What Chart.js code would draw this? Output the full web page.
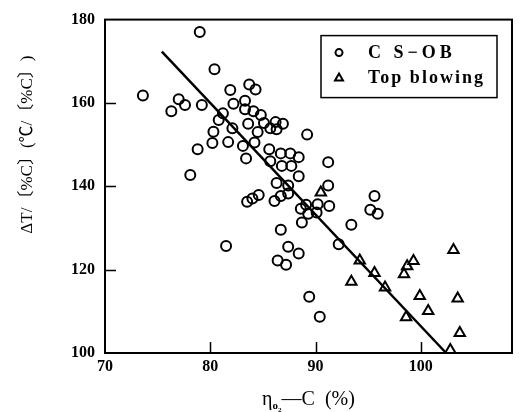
<!DOCTYPE html>
<html lang="ja">
<head>
<meta charset="utf-8">
<title>ΔT/[%C] と η(O2-C)</title>
<script src="https://cdn.jsdelivr.net/npm/chart.js@4/dist/chart.umd.min.js"></script>
<style>
  html, body { margin: 0; padding: 0; background: #fff; }
  #chart { display: block; }
</style>
</head>
<body>
<canvas id="chart" width="520" height="412"></canvas>
<script>
'use strict';

/* ---------- データ ---------- */
const X_TICKS = [70, 80, 90, 100];
const Y_TICKS = [100, 120, 140, 160, 180];

// CS-OB（○）
const CSOB_X = [79.0, 73.6, 80.4, 77.0, 77.6, 76.3, 79.2, 81.9, 83.7, 84.3,
    82.2, 83.3, 83.3, 84.1, 84.8, 81.2, 80.8, 83.6, 82.1, 80.3,
    85.1, 86.2, 86.9, 85.7, 86.3, 84.5, 89.2, 80.2, 81.7, 84.2,
    83.1, 78.8, 83.4, 85.6, 86.7, 87.6, 88.4, 85.7, 86.8, 87.7,
    88.4, 78.1, 86.3, 87.4, 91.2, 91.2, 83.5, 84.0, 84.6, 86.1,
    86.7, 87.4, 89.1, 90.2, 88.6, 91.3, 90.1, 89.3, 88.7, 93.4,
    95.6, 95.2, 95.9, 86.7, 81.5, 87.4, 88.4, 86.4, 87.2, 92.2,
    89.4, 90.4];
const CSOB_Y = [177.0, 161.8, 168.1, 160.9, 159.5, 158.0, 159.5, 163.1, 164.4, 163.2,
    159.8, 160.5, 158.5, 158.0, 157.1, 157.5, 155.9, 155.0, 153.9, 153.1,
    155.2, 155.4, 155.0, 153.9, 153.7, 153.0, 152.4, 150.4, 150.6, 150.5,
    149.7, 148.9, 146.7, 148.9, 147.9, 147.9, 147.0, 146.0, 144.9, 144.9,
    142.4, 142.7, 140.8, 140.2, 145.8, 140.2, 136.3, 137.1, 137.9, 136.5,
    137.7, 138.3, 135.6, 135.7, 134.6, 135.3, 133.7, 133.4, 131.3, 130.8,
    137.7, 134.4, 133.4, 129.6, 125.7, 125.5, 123.9, 122.2, 121.2, 126.1,
    113.5, 108.7];

// Top blowing（△）
const TOP_X = [90.5, 94.2, 93.4, 95.6, 96.6, 103.1, 99.3, 98.7, 98.4, 99.9,
    103.5, 100.7, 98.6, 103.7, 102.8];
const TOP_Y = [138.5, 122.2, 117.1, 119.2, 115.7, 124.7, 122.1, 120.8, 118.9, 113.7,
    113.1, 110.1, 108.6, 104.8, 100.7];

// 回帰直線の両端
const FIT_X = [75.4, 102.4];
const FIT_Y = [172.3, 100.0];

const SERIF = '"Liberation Serif", "DejaVu Serif", serif';
const SERIF_CJK = '"Liberation Serif", "Noto Sans CJK JP", serif';

function toPoints(xs, ys) {
    return xs.map(function (x, i) { return { x: x, y: ys[i] }; });
}

/* ---------- 枠・内向き目盛・軸タイトル・凡例 ---------- */
const framePlugin = {
    id: 'frame',
    afterDraw(chart) {
        const ctx = chart.ctx;
        const a = chart.chartArea;
        const sx = chart.scales.x;
        const sy = chart.scales.y;
        ctx.save();
        ctx.strokeStyle = '#000';
        ctx.fillStyle = '#000';

        // 外枠
        ctx.lineWidth = 2;
        ctx.strokeRect(a.left, a.top, a.right - a.left, a.bottom - a.top);

        // 内向きの目盛
        ctx.lineWidth = 1.5;
        ctx.beginPath();
        X_TICKS.slice(1).forEach(function (v) {
            const px = Math.round(sx.getPixelForValue(v)) + 0.5;
            ctx.moveTo(px, a.bottom);
            ctx.lineTo(px, a.bottom - 11);
        });
        Y_TICKS.slice(1, -1).forEach(function (v) {
            const py = Math.round(sy.getPixelForValue(v)) + 0.5;
            ctx.moveTo(a.left, py);
            ctx.lineTo(a.left + 11, py);
        });
        ctx.stroke();

        // 縦軸タイトル
        ctx.save();
        ctx.translate(28, a.top + 125);
        ctx.rotate(-Math.PI / 2);
        ctx.font = '17px ' + SERIF_CJK;
        ctx.textAlign = 'center';
        ctx.textBaseline = 'middle';
        ctx.fillText('ΔT/〔%C〕(℃/〔%C〕)', 0, 0);
        ctx.restore();

        // 横軸タイトル（η の下付き O2）
        const parts = [
            { t: 'η', f: '20px ' + SERIF, dy: 0 },
            { t: 'o', f: 'bold 11px ' + SERIF, dy: 4 },
            { t: '2', f: 'bold 7px ' + SERIF, dy: 7 },
            { t: '—C', f: '20px ' + SERIF, dy: 0 },
            { t: '  (%)', f: '20px ' + SERIF, dy: 0 }
        ];
        let total = 0;
        parts.forEach(function (p) { ctx.font = p.f; p.w = ctx.measureText(p.t).width; total += p.w; });
        let tx = (a.left + a.right) / 2 - total / 2;
        ctx.textAlign = 'left';
        ctx.textBaseline = 'alphabetic';
        parts.forEach(function (p) {
            ctx.font = p.f;
            ctx.fillText(p.t, tx, 405 + p.dy);
            tx += p.w;
        });

        // 凡例（枠付き、右上）
        const lx = a.right - 191;
        const ly = a.top + 16;
        ctx.lineWidth = 1.5;
        ctx.strokeRect(lx, ly, 176, 62);
        const ds = chart.data.datasets;
        [0, 1].forEach(function (i, row) {
            const cy = ly + 17 + row * 25;
            const mx = lx + 18;
            ctx.lineWidth = 2;
            ctx.beginPath();
            if (ds[i].pointStyle === 'triangle') {
                ctx.moveTo(mx, cy - 4);
                ctx.lineTo(mx + 4, cy + 3);
                ctx.lineTo(mx - 4, cy + 3);
                ctx.closePath();
            } else {
                ctx.arc(mx, cy, 3.5, 0, Math.PI * 2);
            }
            ctx.stroke();
            ctx.font = 'bold 18px ' + SERIF;
            ctx.letterSpacing = row === 0 ? '4px' : '2px';
            ctx.textBaseline = 'middle';
            ctx.fillText(ds[i].label, lx + 47, cy + 1);
            ctx.letterSpacing = '0px';
        });
        ctx.restore();
    }
};

new Chart(document.getElementById('chart'), {
    type: 'scatter',
    data: {
        datasets: [
            {
                label: 'C S−OB',
                data: toPoints(CSOB_X, CSOB_Y),
                pointStyle: 'circle',
                pointRadius: 5,
                borderWidth: 2,
                borderColor: '#000',
                backgroundColor: 'transparent',
                clip: false
            },
            {
                label: 'Top blowing',
                data: toPoints(TOP_X, TOP_Y),
                pointStyle: 'triangle',
                pointRadius: 6,
                borderWidth: 2,
                borderColor: '#000',
                backgroundColor: 'transparent',
                clip: false
            },
            {
                label: 'fit',
                data: toPoints(FIT_X, FIT_Y),
                showLine: true,
                pointRadius: 0,
                borderWidth: 2.5,
                borderColor: '#000',
                clip: false
            }
        ]
    },
    options: {
        responsive: false,
        animation: false,
        layout: { padding: { top: 14, right: 4, left: 0, bottom: 0 } },
        plugins: { legend: { display: false }, tooltip: { enabled: false } },
        scales: {
            x: {
                type: 'linear',
                min: 70,
                max: 108.66,
                afterBuildTicks: function (s) { s.ticks = X_TICKS.map(v => ({ value: v })); },
                afterFit: function (s) { s.height = 59; },
                grid: { display: false, drawTicks: false },
                border: { display: false },
                ticks: { color: '#000', padding: 4, maxRotation: 0, font: { family: SERIF, size: 16, weight: 'bold' } }
            },
            y: {
                type: 'linear',
                min: 100,
                max: 180,
                afterBuildTicks: function (s) { s.ticks = Y_TICKS.map(v => ({ value: v })); },
                afterFit: function (s) { s.width = 105; },
                grid: { display: false, drawTicks: false },
                border: { display: false },
                ticks: { color: '#000', padding: 10, font: { family: SERIF, size: 16, weight: 'bold' } }
            }
        }
    },
    plugins: [framePlugin]
});
</script>
</body>
</html>
